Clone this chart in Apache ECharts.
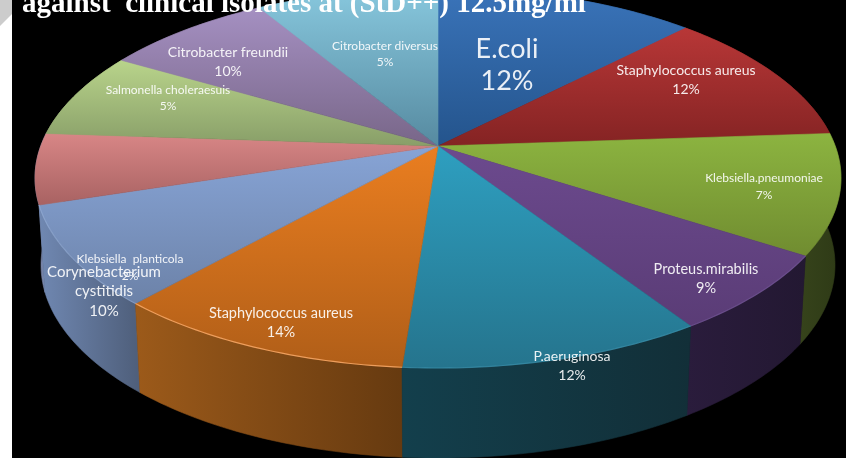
<!DOCTYPE html>
<html>
<head>
<meta charset="utf-8">
<script src="https://cdn.jsdelivr.net/npm/echarts@6/dist/echarts.min.js"></script>
<style>html,body{margin:0;padding:0;background:#fff}#c{width:846px;height:458px}</style>
</head>
<body>
<div id="c"></div>
<script>
// ---- data ----
var titleText = 'against  clinical isolates at (StD++) 12.5mg/ml';
var sliceNames = ['E.coli','Staphylococcus aureus','Klebsiella.pneumoniae','Proteus.mirabilis','P.aeruginosa','Staphylococcus aureus','Corynebacterium\ncystitidis','Klebsiella  planticola','Salmonella choleraesuis','Citrobacter freundii','Citrobacter diversus'];
var percentLabels = ['12%','12%','7%','9%','12%','14%','10%','2%','5%','10%','5%'];
// arc sizes (the printed percentages do not follow the drawn arcs)
var arcShares = [12.3,11.6,10.2,6.7,10.4,10.4,8.5,6.0,7.3,8.0,8.6];

// ---- styling ----
var topColors = [['#3a74ba','#24548c'],['#b83737','#842323'],['#8cb440','#708c30'],['#6c4a8e','#5a3c76'],['#2e9fc0','#25748d'],['#ea7e20','#b05e18'],['#87a4d6','#6c82a8'],['#d88686','#a86262'],['#b9d48b','#889e68'],['#a590c2','#786688'],['#88c8de','#568aa0']];
var wallColors = [['#24548c','#1c4270'],['#842323','#5e1a1a'],['#36431b','#2e3a16'],['#2a1c3c','#231832'],['#133f4c','#122f38'],['#9c5a1a','#663a10'],['#7088b2','#4e5e7a'],['#7a7f9e','#7088b2'],['#889e68','#708050'],['#786688','#605070'],['#568aa0','#406a80']];
var rimColors = [null,null,null,'rgba(130,100,170,0.5)','rgba(70,160,190,0.5)','rgba(245,165,100,0.9)','rgba(150,175,215,0.6)',null,null,null,null];
var labelLayout = [
  {x:507,y:[49,81],size:27},{x:686,y:[70,89],size:14},{x:764,y:[178,195],size:12},
  {x:706,y:[269,288],size:14.5},{x:572,y:[356,375],size:14},{x:281,y:[313,332],size:14.5},
  {x:104,y:[272,291,311],size:15},{x:130,y:[259,276],size:12},{x:168,y:[90,106],size:12},
  {x:228,y:[52,71],size:14},{x:385,y:[46,62],size:12}
];

// ---- geometry of the tilted disc ----
var topE = {cx:438,cy:178,rx:403,ry:190}, botE = {cx:438,cy:265,rx:397,ry:193}, tilt = 0.168;
function project(e,a){
  var X=Math.sin(a),Y=-Math.cos(a),d=1-tilt*Y;
  return [e.cx+e.rx*X*Math.sqrt(1-tilt*tilt)/d, e.cy+e.ry*(Y-tilt)/d];
}
var total = arcShares.reduce(function(a,b){return a+b;},0);
function angleRange(i){
  var s=0; for(var k=0;k<i;k++) s+=arcShares[k];
  return [s/total*2*Math.PI,(s+arcShares[i])/total*2*Math.PI];
}
function arc(e,a0,a1){
  var n=Math.max(8,Math.ceil((a1-a0)*60)),p=[];
  for(var k=0;k<=n;k++) p.push(project(e,a0+(a1-a0)*k/n));
  return p;
}
function vgrad(c){return {type:'linear',x:0,y:0,x2:0,y2:1,colorStops:[{offset:0,color:c[0]},{offset:1,color:c[1]}]};}
function hgrad(c){return {type:'linear',x:0,y:0,x2:1,y2:0,colorStops:[{offset:0,color:c[0]},{offset:1,color:c[1]}]};}

var sliceData = arcShares.map(function(v,i){return {name:sliceNames[i],value:[i,v]};});

function renderWall(params,api){
  var i=api.value(0),r=angleRange(i),mid=(r[0]+r[1])/2;
  var pts=arc(topE,r[0],r[1]).concat(arc(botE,r[0],r[1]).reverse());
  var g=hgrad(wallColors[i]);
  return {type:'polygon',z2:Math.round(-Math.cos(mid)*100)+100,shape:{points:pts},style:{fill:g,stroke:g,lineWidth:0.6}};
}
function renderTop(params,api){
  var i=api.value(0),r=angleRange(i);
  var rim=arc(topE,r[0],r[1]);
  var apex=[topE.cx,topE.cy-topE.ry*tilt];
  var g=vgrad(topColors[i]);
  var kids=[{type:'polygon',shape:{points:[apex].concat(rim)},style:{fill:g,stroke:g,lineWidth:0.6}}];
  if(rimColors[i]) kids.push({type:'polyline',z2:5,shape:{points:rim},style:{stroke:rimColors[i],lineWidth:1.2,fill:null}});
  return {type:'group',children:kids};
}

var labelEls = sliceNames.map(function(n,i){
  var lines=n.split('\n').concat([percentLabels[i]]),L=labelLayout[i];
  return lines.map(function(t,j){
    return {type:'text',z:20,x:L.x,y:L.y[j],style:{text:t,fill:'rgba(255,255,255,0.9)',font:L.size+'px Lato',textAlign:'center',textVerticalAlign:'middle'}};
  });
}).reduce(function(a,b){return a.concat(b);},[]);

var chart = echarts.init(document.getElementById('c'),null,{renderer:'canvas'});
chart.setOption({
  animation:false,
  backgroundColor:'#ffffff',
  tooltip:{show:false},
  series:[
    {type:'custom',coordinateSystem:'none',z:1,silent:true,data:sliceData,renderItem:renderWall},
    {type:'custom',coordinateSystem:'none',z:2,silent:true,data:sliceData,renderItem:renderTop}
  ],
  graphic:{elements:[
    {type:'rect',z:-10,zlevel:-1,shape:{x:12,y:0,width:834,height:458},style:{fill:'#000'}},
    {type:'polygon',z:-9,zlevel:-1,shape:{points:[[0,0],[12,0],[12,14],[0,26]]},style:{fill:'#cccccc'}},
    {type:'text',z:30,x:22,y:19,style:{text:titleText,fill:'#ffffff',font:'bold 29px "Liberation Serif"',textAlign:'left',textVerticalAlign:'bottom'}}
  ].concat(labelEls)}
});
</script>
</body>
</html>
